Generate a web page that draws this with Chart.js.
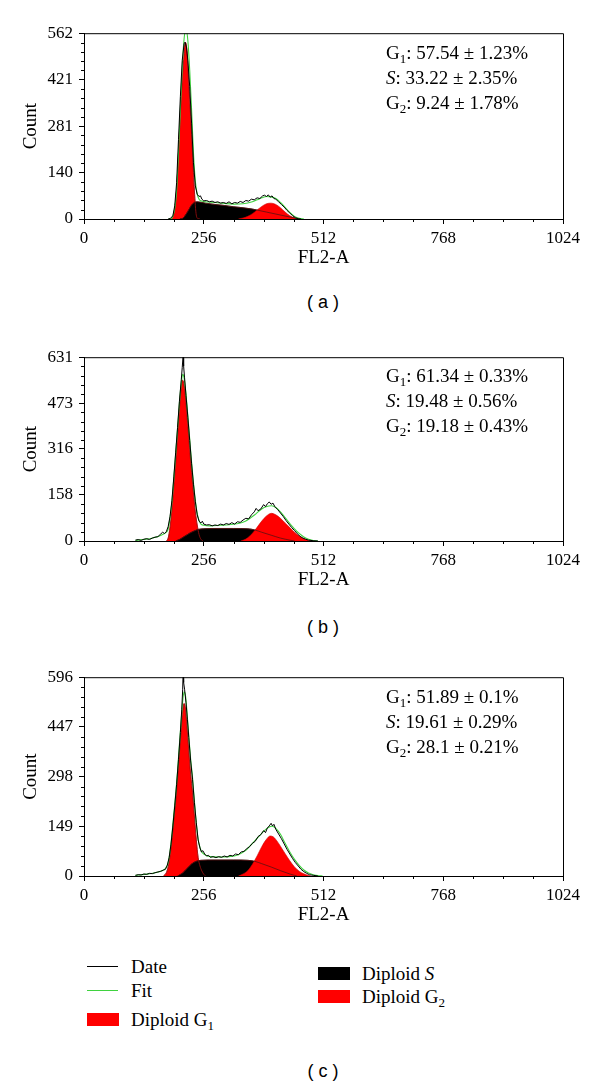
<!DOCTYPE html>
<html><head><meta charset="utf-8">
<script src="https://cdn.jsdelivr.net/npm/chart.js@4.4.0/dist/chart.umd.min.js"></script>
<style>
html,body{margin:0;padding:0;background:#fff;}
body{width:600px;height:1086px;position:relative;overflow:hidden;font-family:"Liberation Serif","Times New Roman",serif;color:#000;}
canvas{position:absolute;left:0;}
.stats{position:absolute;font-size:19px;line-height:25px;white-space:nowrap;}
.stats sub,.leg sub{font-size:13px;vertical-align:-4px;line-height:0;}
.cap{position:absolute;font-family:"Liberation Sans",Arial,sans-serif;font-size:18px;width:100px;text-align:center;white-space:pre;}
.leg{position:absolute;font-size:19px;line-height:20px;white-space:nowrap;}
.sw{position:absolute;}
</style>
</head><body>
<script>
// ================= DATA =================
// Axis ticks
const X_MAJOR = [0, 256, 512, 768, 1024];
const a_yTicks = [0, 140, 281, 421, 562];
const b_yTicks = [0, 158, 316, 473, 631];
const c_yTicks = [0, 149, 298, 447, 596];

// Panel (a)
const a_data_x = [180,185,190,194,198,202,206,210,214,216,219,222,226,230,234,238,242,246,249,252,256,262,268,274,280,286,292,298,304,310,316,322,328,334,340,346,352,358,364,370,376,382,386,390,394,398,402,406,410,416,422,428,434,440,446,452,458,464];
const a_data_y = [0,2,10,40,110,240,370,480,530,535,520,480,400,290,170,100,75,68,70,60,55,56,52,54,50,52,48,50,47,52,46,50,48,53,50,56,54,60,58,64,62,70,72,68,73,66,70,62,60,52,44,36,26,18,10,4,1,0];
const a_fit_x = [180,186,190,194,198,202,206,210,214,218,222,226,230,234,238,242,246,250,260,280,300,320,340,360,370,380,390,400,410,420,430,440,450,460,470];
const a_fit_y = [0,1,8,32,85,200,335,460,545,575,540,450,330,200,115,75,60,55,52,50,47,45,46,52,58,64,68,67,62,50,35,20,8,2,0];
const a_g1_x = [186,190,194,198,202,206,210,214,217,220,224,228,232,236,240,244,248];
const a_g1_y = [0,8,30,90,200,320,420,500,534,510,410,310,200,85,12,1,0];
const a_s_x = [205,212,218,224,230,236,242,260,280,300,320,340,360,370,390,410,430,447,460];
const a_s_y = [0,3,14,28,42,50,52,48,44,41,37,34,30,27,21,15,9,4,0];
const a_g2_x = [330,340,350,360,370,380,390,400,410,420,430,440,450,458];
const a_g2_y = [0,3,8,16,27,38,46,48,44,34,21,10,3,0];
const a_stats = ["57.54 ± 1.23%", "33.22 ± 2.35%", "9.24 ± 1.78%"];

// Panel (b)
const b_data_x = [110,116,122,128,134,140,146,152,158,164,168,172,176,180,184,188,192,196,200,204,208,210,212,213,215,218,222,226,230,234,238,242,246,250,253,256,262,268,274,280,286,292,298,304,310,316,322,328,334,340,346,352,358,364,368,372,378,384,388,392,396,400,404,408,414,420,426,432,438,444,450,456,462,468,474,480,490,500];
const b_data_y = [3,5,2,6,8,5,10,13,15,24,30,26,32,50,85,140,220,305,390,480,555,595,640,600,560,500,425,345,265,195,135,90,68,62,68,58,55,56,52,55,53,58,55,60,57,63,58,66,64,72,78,76,90,100,112,104,110,125,118,128,134,126,130,118,108,96,84,70,58,46,36,25,16,10,6,3,1,0];
const b_fit_x = [110,120,130,140,150,160,168,176,180,184,188,192,196,200,204,208,211,214,218,222,226,230,234,238,242,246,250,256,270,290,310,330,345,355,365,375,385,395,401,410,420,430,440,450,460,470,480,490,500];
const b_fit_y = [2,4,6,8,12,16,22,30,42,80,135,215,300,385,475,545,572,560,505,430,350,270,200,140,95,70,58,54,52,54,56,60,68,78,90,104,115,120,121,115,100,80,60,42,26,14,6,2,0];
const b_g1_x = [176,180,184,188,192,196,200,204,208,211,214,218,222,226,230,234,238,242,246,250,254];
const b_g1_y = [0,10,48,110,190,270,360,455,530,552,535,475,395,315,235,165,100,55,22,6,0];
const b_s_x = [196,205,215,225,235,245,255,280,320,350,365,380,400,420,440,450];
const b_s_y = [0,6,16,26,34,40,42,43,43,42,38,30,20,10,3,0];
const b_g2_x = [335,345,355,365,375,385,395,401,410,420,430,440,450,460,470,480,488];
const b_g2_y = [0,6,18,36,58,78,92,95,90,78,62,46,30,17,8,3,0];
const b_stats = ["61.34 ± 0.33%", "19.48 ± 0.56%", "19.18 ± 0.43%"];

// Panel (c)
const c_data_x = [110,116,122,128,134,140,146,152,158,164,170,174,178,182,186,190,194,198,202,206,209,211,212,213,215,218,221,224,228,232,236,240,244,248,251,254,258,262,266,270,276,282,288,294,300,306,312,318,324,330,336,342,348,354,360,366,372,378,384,388,392,396,400,403,406,410,416,422,428,434,440,446,452,458,464,470,476,482,490,500];
const c_data_y = [2,4,3,6,5,8,7,10,12,14,18,20,32,55,95,150,210,275,350,430,500,560,620,580,560,520,470,415,345,290,220,160,108,84,72,76,66,60,62,56,58,55,58,56,60,57,62,60,66,64,72,74,82,88,98,104,118,124,136,130,144,150,158,150,155,140,126,112,96,80,66,52,40,30,20,13,8,4,2,0];
const c_fit_x = [110,130,150,165,174,180,184,188,192,196,200,204,208,211,214,217,220,224,228,232,236,240,244,248,252,258,270,290,310,330,345,355,365,375,385,395,402,410,420,430,440,450,460,470,480,490,500,510];
const c_fit_y = [2,5,9,15,22,40,75,125,185,245,315,395,470,525,552,540,495,420,350,295,225,160,110,85,72,64,58,57,58,64,76,90,105,120,135,146,149,143,125,98,72,50,32,18,9,4,1,0];
const c_g1_x = [170,176,180,184,188,192,196,200,204,208,211,214,217,220,224,228,232,236,240,244,248,252,256,260];
const c_g1_y = [0,10,28,62,110,170,225,295,370,445,495,517,500,450,375,305,250,180,110,55,30,15,5,0];
const c_s_x = [200,210,220,230,240,250,280,320,350,365,380,400,420,440,455];
const c_s_y = [0,8,22,36,44,47,48,48,47,44,37,27,16,6,0];
const c_g2_x = [330,340,350,360,370,380,390,398,405,415,425,435,445,455,465,475,485];
const c_g2_y = [0,6,16,35,60,88,110,120,117,100,78,56,36,20,10,4,0];
const c_stats = ["51.89 ± 0.1%", "19.61 ± 0.29%", "28.1 ± 0.21%"];

// ================= LAYOUT =================
const SERIF = "'Liberation Serif','Times New Roman',serif";
const panels = [
  {key:'a', top:29, bottom:219, yTicks:a_yTicks, stats:a_stats, statsTop:40, capY:303,
   d:[a_data_x,a_data_y], f:[a_fit_x,a_fit_y], g1:[a_g1_x,a_g1_y], s:[a_s_x,a_s_y], g2:[a_g2_x,a_g2_y]},
  {key:'b', top:353, bottom:541, yTicks:b_yTicks, stats:b_stats, statsTop:363, capY:628,
   d:[b_data_x,b_data_y], f:[b_fit_x,b_fit_y], g1:[b_g1_x,b_g1_y], s:[b_s_x,b_s_y], g2:[b_g2_x,b_g2_y]},
  {key:'c', top:673, bottom:876, yTicks:c_yTicks, stats:c_stats, statsTop:684, capY:null,
   d:[c_data_x,c_data_y], f:[c_fit_x,c_fit_y], g1:[c_g1_x,c_g1_y], s:[c_s_x,c_s_y], g2:[c_g2_x,c_g2_y]}
];
const PAD_TOP = 12, X_AXIS_H = 56, Y_AXIS_W = 84, RIGHT_PAD = 37;

const pts = (xs, ys) => xs.map((x, i) => ({x, y: ys[i]}));

const framePlugin = {
  id: 'frame',
  afterDraw(chart, args, opts) {
    const {ctx, chartArea: ca, scales} = chart;
    ctx.save();
    ctx.strokeStyle = '#000';
    ctx.lineWidth = 1;
    ctx.beginPath();
    ctx.moveTo(ca.left, ca.top + 0.5); ctx.lineTo(ca.right + 0.5, ca.top + 0.5);
    ctx.lineTo(ca.right + 0.5, ca.bottom);
    ctx.stroke();
    ctx.beginPath();
    opts.xMinor.forEach(v => {
      const px = Math.round(scales.x.getPixelForValue(v)) + 0.5;
      ctx.moveTo(px, ca.bottom); ctx.lineTo(px, ca.bottom + 3);
    });
    opts.yMinor.forEach(v => {
      const py = Math.round(scales.y.getPixelForValue(v)) + 0.5;
      ctx.moveTo(ca.left, py); ctx.lineTo(ca.left - 3, py);
    });
    ctx.stroke();
    ctx.restore();
  }
};

panels.forEach(p => {
  const cv = document.createElement('canvas');
  const cTop = p.top - PAD_TOP;
  const H = p.bottom - cTop + X_AXIS_H;
  cv.width = 600; cv.height = H;
  cv.style.top = cTop + 'px';
  cv.style.width = '600px'; cv.style.height = H + 'px';
  document.body.appendChild(cv);

  const yMax = p.yTicks[p.yTicks.length - 1];
  const xMinor = [];
  for (let v = 64; v < 1024; v += 64) if (!X_MAJOR.includes(v)) xMinor.push(v);
  const yMinor = [];
  for (let i = 0; i < p.yTicks.length - 1; i++) {
    const a = p.yTicks[i], b = p.yTicks[i + 1];
    for (let k = 1; k < 5; k++) yMinor.push(a + (b - a) * k / 5);
  }

  new Chart(cv, {
    type: 'line',
    data: {
      datasets: [
        {label:'Date', data:pts(...p.d), borderColor:'#000', borderWidth:1, pointRadius:0, fill:false, tension:0, order:1},
        {label:'Fit', data:pts(...p.f), borderColor:'#3fd23f', borderWidth:1.1, pointRadius:0, fill:false, cubicInterpolationMode:'monotone', order:2},
        {label:'S line', data:pts(...p.s), borderColor:'#5a1010', borderWidth:0.8, pointRadius:0, fill:false, cubicInterpolationMode:'monotone', order:3},
        {label:'G1 line', data:pts(...p.g1), borderColor:'#a01010', borderWidth:0.8, pointRadius:0, fill:false, cubicInterpolationMode:'monotone', order:4},
        {label:'Diploid G2', data:pts(...p.g2), borderColor:'#d00000', backgroundColor:'#ff0000', borderWidth:0.6, pointRadius:0, fill:'origin', cubicInterpolationMode:'monotone', order:5},
        {label:'Diploid S', data:pts(...p.s), borderColor:'#000', backgroundColor:'#000', borderWidth:0.6, pointRadius:0, fill:'origin', cubicInterpolationMode:'monotone', order:6},
        {label:'Diploid G1', data:pts(...p.g1), borderColor:'#c00000', backgroundColor:'#ff0000', borderWidth:0.6, pointRadius:0, fill:'origin', cubicInterpolationMode:'monotone', order:7}
      ]
    },
    options: {
      responsive:false, animation:false, devicePixelRatio:1, events:[],
      layout:{padding:{top:PAD_TOP, right:RIGHT_PAD, left:0, bottom:0}},
      plugins:{legend:{display:false}, tooltip:{enabled:false}, frame:{xMinor, yMinor}},
      scales:{
        x:{type:'linear', min:0, max:1024, offset:false,
           afterBuildTicks:s => { s.ticks = X_MAJOR.map(v => ({value:v})); },
           afterFit:s => { s.height = X_AXIS_H; },
           ticks:{autoSkip:false, maxRotation:0, padding:4, color:'#000', font:{family:SERIF, size:17}, callback:v => String(v)},
           grid:{drawOnChartArea:false, drawTicks:true, tickLength:5, color:'#000', tickColor:'#000'},
           border:{display:true, color:'#000', width:1},
           title:{display:true, text:'FL2-A', color:'#000', font:{family:SERIF, size:19}, padding:{top:0, bottom:5.6}}},
        y:{type:'linear', min:0, max:yMax,
           afterBuildTicks:s => { s.ticks = p.yTicks.map(v => ({value:v})); },
           afterFit:s => { s.width = Y_AXIS_W; },
           ticks:{autoSkip:false, padding:6, color:'#000', font:{family:SERIF, size:17}, callback:v => String(v)},
           grid:{drawOnChartArea:false, drawTicks:true, tickLength:5, color:'#000', tickColor:'#000'},
           border:{display:true, color:'#000', width:1},
           title:{display:true, text:'Count', color:'#000', font:{family:SERIF, size:19}, padding:{top:19.6, bottom:0}}}
      }
    },
    plugins:[framePlugin]
  });

  const st = document.createElement('div');
  st.className = 'stats';
  st.style.left = '386px'; st.style.top = p.statsTop + 'px';
  st.innerHTML = 'G<sub>1</sub>: ' + p.stats[0] + '<br><i>S</i>: ' + p.stats[1] + '<br>G<sub>2</sub>: ' + p.stats[2];
  document.body.appendChild(st);

  if (p.capY !== null) {
    const cp = document.createElement('div');
    cp.className = 'cap';
    cp.style.left = (323 - 50) + 'px'; cp.style.top = (p.capY - 11) + 'px';
    cp.textContent = '( ' + p.key + ' )';
    document.body.appendChild(cp);
  }
});

// ================= LEGEND =================
const legendItems = [
  {kind:'line', color:'#000', x:87, y:966, html:'Date'},
  {kind:'line', color:'#3fd23f', x:87, y:990, html:'Fit'},
  {kind:'box', color:'#ff0000', x:87, y:1013, html:'Diploid G<sub>1</sub>'},
  {kind:'box', color:'#000', x:318, y:967, html:'Diploid <i>S</i>'},
  {kind:'box', color:'#ff0000', x:318, y:990, html:'Diploid G<sub>2</sub>'}
];
legendItems.forEach(it => {
  const sw = document.createElement('div');
  sw.className = 'sw';
  if (it.kind === 'line') {
    sw.style.cssText = `left:${it.x}px;top:${it.y}px;width:31px;height:1px;background:${it.color};`;
  } else {
    sw.style.cssText = `left:${it.x}px;top:${it.y}px;width:32px;height:13px;background:${it.color};`;
  }
  document.body.appendChild(sw);
  const t = document.createElement('div');
  t.className = 'leg';
  const cy = it.kind === 'line' ? it.y + 1 : it.y + 7;
  t.style.left = (it.x + 44) + 'px';
  t.style.top = (cy - 10) + 'px';
  t.innerHTML = it.html;
  document.body.appendChild(t);
});
const capC = document.createElement('div');
capC.className = 'cap';
capC.style.left = (323 - 50) + 'px'; capC.style.top = (1072 - 11) + 'px';
capC.textContent = '( c )';
document.body.appendChild(capC);
</script>
</body></html>
